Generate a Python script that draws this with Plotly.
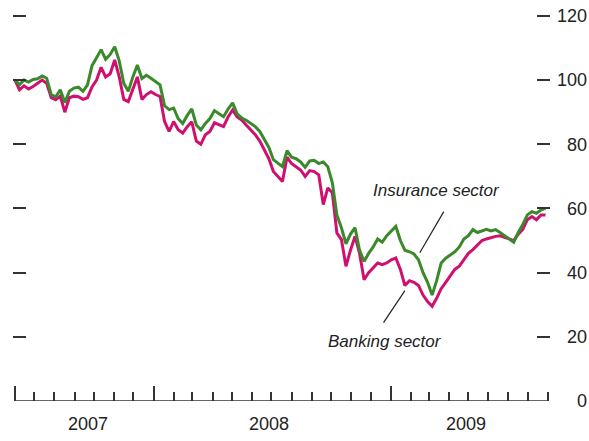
import pandas as pd
import plotly.graph_objects as go

# ---- data (weekly readings, indexed to 100 at start) ----
start_date = "2007-06-01"
n_weeks = 118
dates = pd.date_range(start_date, periods=n_weeks, freq="7D")

insurance = [
    100, 98.6, 100, 99.4, 100.2, 100.4, 101.3, 100.6, 95.5, 94.8,
    97, 93, 96.5, 97.5, 97.8, 96.5, 98.5, 104.5, 107, 109.5,
    106.5, 108, 110.4, 106, 99, 96.5, 101, 104.7, 100.5, 101.5,
    100.6, 99.5, 98.5, 92, 90.8, 91.3, 88, 86.5, 89, 91,
    86, 84.5, 86.5, 88, 90.5, 89.5, 88.6, 91, 92.9, 89.5,
    88.2, 87.5, 86.5, 85.5, 84, 81.5, 79, 75.2, 74, 73,
    78, 76, 75.5, 74.5, 72.8, 74.8, 75, 74, 74.5, 73,
    68, 58, 54, 49, 52, 54, 47, 43.5, 46, 48,
    50.5, 49.5, 51.5, 53, 54.4, 50, 47, 46.5, 45.8, 44,
    40, 37, 33, 37.5, 43, 44.5, 45.5, 46.5, 48, 50.5,
    51.5, 53.4, 52.5, 53, 53.5, 53, 53.4, 52.5, 51.5, 50.5,
    49.5, 52.5, 55, 58, 59, 58.5, 59.5, 60,
]
banking = [
    100, 97, 98.2, 97.2, 98, 99, 100, 99, 94.5, 93.9,
    95, 90, 94.5, 95, 94.8, 94, 94.5, 97.9, 100, 104,
    101, 102, 106.3, 101, 94, 93.3, 97.5, 101, 94, 95.5,
    96.4, 95.5, 94.9, 87.1, 84, 87.1, 84.5, 83.5, 85.5, 87,
    81, 80, 83, 84, 86.7, 86, 85.5, 88.5, 90.7, 88.5,
    87.6, 86, 84.5, 83, 81, 78.3, 75.5, 71.5, 70, 68.4,
    76, 74, 73, 72, 70, 71.8, 71.5, 70.5, 61.2, 66.4,
    64.9, 52.4, 50.3, 42, 47, 51.3, 46, 37.8, 40, 41.5,
    43, 42.5, 43, 44, 44.6, 41, 36, 37.5, 37, 36,
    33, 31, 29.5, 32, 35, 37, 39, 41, 42, 44,
    46, 47.2, 48.5, 50, 50.5, 51, 51.3, 51.5, 51, 50.5,
    50, 52, 53.5, 56.5, 57.5, 56.5, 58, 58,
]

x_range = ["2007-05-29", "2009-09-04"]
y_range = [0, 120.6]
year_ticks = ["2007-06-01", "2008-01-01", "2009-01-01"]
year_labels = ["2007", "2008", "2009"]
year_label_pos = ["2007-09-22", "2008-06-27", "2009-04-27"]
y_ticks = [0, 20, 40, 60, 80, 100, 120]
y_tick_text = ["\u2007\u20070", "\u200720", "\u200740", "\u200760", "\u200780", "100", "120"]

GREEN = "#3a8a2c"
PINK = "#d0106e"
AXIS = "#333333"
FONT = "Liberation Sans, Arial, sans-serif"
TXT = "#222222"

fig = go.Figure()
fig.add_trace(go.Scatter(x=dates, y=banking, mode="lines", name="Banking sector",
                         line=dict(color=PINK, width=3), showlegend=False))
fig.add_trace(go.Scatter(x=dates, y=insurance, mode="lines", name="Insurance sector",
                         line=dict(color=GREEN, width=3), showlegend=False))
# invisible trace to activate right-hand axis
fig.add_trace(go.Scatter(x=[dates[0]], y=[None], yaxis="y2", showlegend=False, hoverinfo="skip"))

fig.update_layout(
    template="none",
    width=589, height=441,
    margin=dict(l=13, r=39, t=14, b=40, autoexpand=False),
    paper_bgcolor="white", plot_bgcolor="white",
    font=dict(family=FONT, size=18, color=TXT),
    xaxis=dict(
        type="date", range=x_range, showgrid=False, zeroline=False, automargin=False,
        showline=False,
        tickmode="array", tickvals=year_ticks, showticklabels=False,
        ticks="inside", ticklen=15, tickwidth=1.5, tickcolor=AXIS,
        minor=dict(ticks="inside", ticklen=9, tickwidth=1.5, tickcolor=AXIS,
                   dtick="M1", tick0="2007-06-01", showgrid=False),
    ),
    yaxis=dict(
        range=y_range, showgrid=False, zeroline=False, showline=False, automargin=False,
        tickmode="array", tickvals=y_ticks[1:], showticklabels=False,
        ticks="inside", ticklen=13, tickwidth=1.5, tickcolor=AXIS,
    ),
    yaxis2=dict(
        range=y_range, overlaying="y", side="right", showgrid=False, automargin=False,
        zeroline=False, showline=False,
        tickmode="array", tickvals=y_ticks, ticktext=y_tick_text,
        ticks="inside", ticklen=13, tickwidth=1.5, tickcolor=AXIS,
        ticklabelstandoff=6,
        tickfont=dict(family=FONT, size=18, color=TXT),
    ),
)

# baseline of the time axis, spanning June 2007 to end of August 2009
fig.add_shape(type="line", xref="x", yref="y", x0="2007-06-01", y0=0,
              x1="2009-09-01", y1=0, line=dict(color=AXIS, width=1.5))

for pos, lab in zip(year_label_pos, year_labels):
    fig.add_annotation(x=pos, y=-0.06, xref="x", yref="paper", text=lab,
                       showarrow=False, font=dict(size=18, family=FONT, color=TXT),
                       xanchor="center", yanchor="middle")

fig.add_annotation(x="2009-03-13", y=65.6, xref="x", yref="y",
                   text="<i>Insurance sector</i>", showarrow=False,
                   font=dict(size=17, family=FONT, color=TXT))
fig.add_annotation(x="2008-12-24", y=18.4, xref="x", yref="y",
                   text="<i>Banking sector</i>", showarrow=False,
                   font=dict(size=17, family=FONT, color=TXT))

fig.add_shape(type="line", xref="x", yref="y", x0="2009-03-24", y0=59,
              x1="2009-02-15", y1=46.2, line=dict(color=TXT, width=1.2))
fig.add_shape(type="line", xref="x", yref="y", x0="2009-01-23", y0=34.4,
              x1="2008-12-21", y1=24.4, line=dict(color=TXT, width=1.2))

fig.write_html("out.html", config={"displayModeBar": False},
               post_script="document.body.style.margin='0';document.body.style.padding='0';")
